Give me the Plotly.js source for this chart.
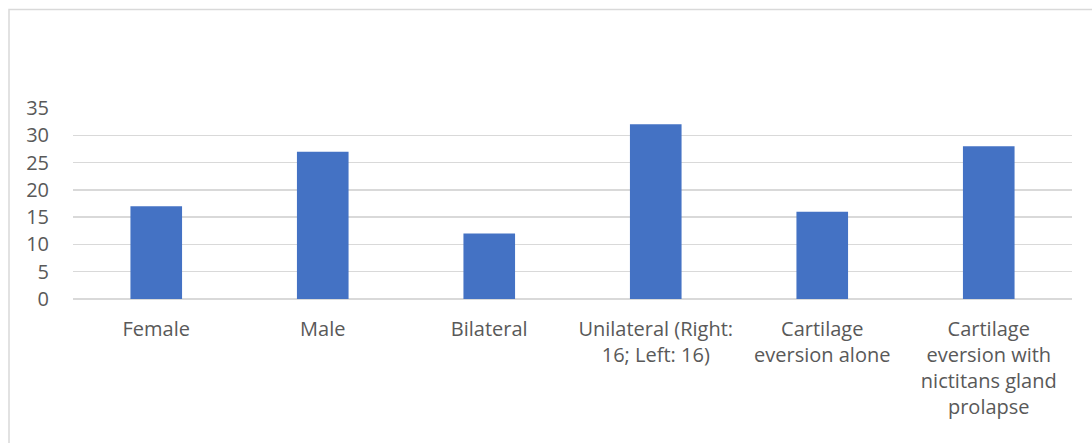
<!DOCTYPE html>
<html><head><meta charset="utf-8">
<script src="https://cdn.plot.ly/plotly-3.0.1.min.js"></script>
<style>html,body{margin:0;padding:0;background:#fff;}#c{width:1092px;height:443px;}</style>
</head><body><div id="c"></div>
<script>
const categories = ["Female", "Male", "Bilateral", "Unilateral (Right:<br>16; Left: 16)", "Cartilage<br>eversion alone", "Cartilage<br>eversion with<br>nictitans gland<br>prolapse"];
const values = [17, 27, 12, 32, 16, 28];
const yTicks = [0, 5, 10, 15, 20, 25, 30, 35];

const fnt = {family: "Open Sans, Liberation Sans, sans-serif", size: 20, color: "#595959"};
Plotly.newPlot("c", [{
  type: "bar", x: categories, y: values,
  marker: {color: "#4472c4"}, hoverinfo: "none"
}], {
  width: 1092, height: 443,
  margin: {l: 73, r: 20, t: 108, b: 144},
  paper_bgcolor: "#fff", plot_bgcolor: "#fff",
  bargap: 0.69,
  showlegend: false,
  xaxis: {type: "category", showgrid: false, zeroline: false, showline: false, ticks: "", tickfont: fnt, ticklabelstandoff: 16, automargin: false},
  yaxis: {range: [0, 35], tickvals: yTicks, showgrid: true, gridcolor: "#d9d9d9", gridwidth: 1.5, zeroline: true, zerolinecolor: "#d9d9d9", zerolinewidth: 1.5, showline: false, ticks: "", tickfont: fnt, ticklabelstandoff: 23, automargin: false},
  shapes: [{type: "rect", xref: "paper", yref: "paper", x0: (9-73)/999, x1: 1.2, y0: -1, y1: 1 + (108-9.5)/191, line: {color: "#d9d9d9", width: 1.5}, fillcolor: "rgba(0,0,0,0)", layer: "below"}]
}, {staticPlot: true});
</script></body></html>
